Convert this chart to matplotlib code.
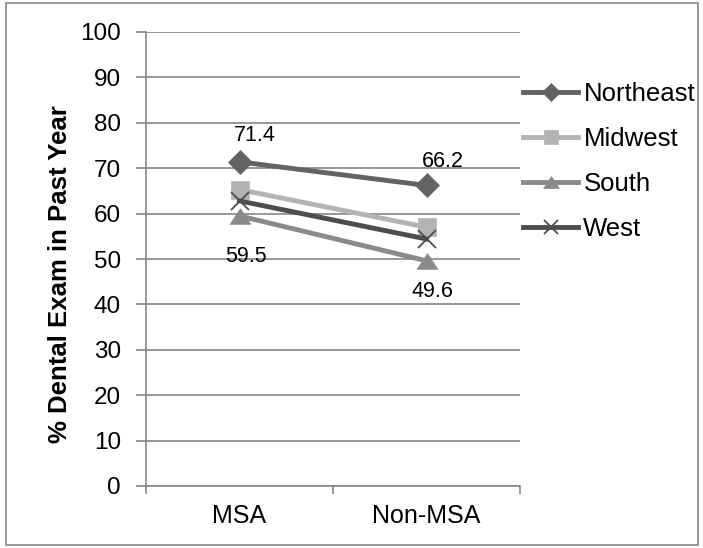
import matplotlib
matplotlib.use("Agg")
import matplotlib.pyplot as plt
from matplotlib.patches import Rectangle

plt.rcParams['font.family'] = ['Liberation Sans', 'DejaVu Sans']

categories = ["MSA", "Non-MSA"]
series_names = ["Northeast", "Midwest", "South", "West"]
northeast = [71.4, 66.2]
midwest = [65.3, 57.0]
south = [59.5, 49.6]
west = [62.8, 54.4]
y_ticks = [0, 10, 20, 30, 40, 50, 60, 70, 80, 90, 100]

W, H = 703, 548
fig = plt.figure(figsize=(W / 100, H / 100), dpi=100)
fig.patches.append(Rectangle((6 / W, 1 - 545 / H), 692 / W, 542 / H, transform=fig.transFigure,
                             fill=False, edgecolor='#868686', linewidth=1.2))
ax = fig.add_axes([146 / W, 1 - 486 / H, 374 / W, 454 / H])

tri = [(-1, -0.75), (1, -0.75), (0, 0.75), (-1, -0.75)]
x = [0.5, 1.5]
styles = [
    (northeast, '#636363', 'D', 12),
    (midwest, '#b3b3b3', 's', 13),
    (south, '#8a8a8a', tri, 15),
    (west, '#4d4d4d', 'x', 13),
]
for (vals, col, mk, ms), name in zip(styles, series_names):
    kw = dict(color=col, linewidth=3.5, marker=mk, markersize=ms, label=name)
    if mk == 'x':
        kw.update(markeredgewidth=1.3)
    else:
        kw.update(markeredgecolor=col, markeredgewidth=0.5)
    ax.plot(x, vals, **kw)

ax.set_xlim(0, 2)
ax.set_ylim(0, 100)
ax.set_yticks(y_ticks)
ax.set_yticklabels([str(v) for v in y_ticks], fontsize=17.5)
ax.yaxis.grid(True, color='#868686', linewidth=1.2)
ax.set_axisbelow(True)
ax.set_xticks([0, 1, 2])
ax.set_xticklabels(['', '', ''])
ax.set_xticks(x, minor=True)
ax.set_xticklabels(categories, minor=True, fontsize=18)
ax.tick_params(axis='x', which='major', length=6, color='#868686', width=1.2, direction='out')
ax.tick_params(axis='x', which='minor', length=0, pad=13)
ax.tick_params(axis='y', length=7, color='#868686', width=1.2, direction='out', pad=11)
for s in ['top', 'right']:
    ax.spines[s].set_visible(False)
for s in ['left', 'bottom']:
    ax.spines[s].set_color('#868686')
    ax.spines[s].set_linewidth(1.2)

ax.set_ylabel('% Dental Exam in Past Year', fontsize=18.5, fontweight='bold')
ax.yaxis.set_label_coords(72 / W, 0.5, transform=fig.transFigure)

# data labels (offsets in points)
lab = dict(textcoords='offset points', ha='center', va='center', fontsize=15.5)
ax.annotate(f"{northeast[0]}", (x[0], northeast[0]), xytext=(11, 19), **lab)
ax.annotate(f"{northeast[1]}", (x[1], northeast[1]), xytext=(12, 17), **lab)
ax.annotate(f"{south[0]}", (x[0], south[0]), xytext=(5, -29), **lab)
ax.annotate(f"{south[1]}", (x[1], south[1]), xytext=(4, -22), **lab)

leg = ax.legend(loc='upper left', bbox_to_anchor=(523 / W, 1 - 82 / H), bbox_transform=fig.transFigure,
                frameon=False, fontsize=18.5, handlelength=2.15, labelspacing=0.82,
                handletextpad=0.2, borderpad=0, borderaxespad=0, markerscale=0.75)

fig.savefig('out.png', dpi=100)
